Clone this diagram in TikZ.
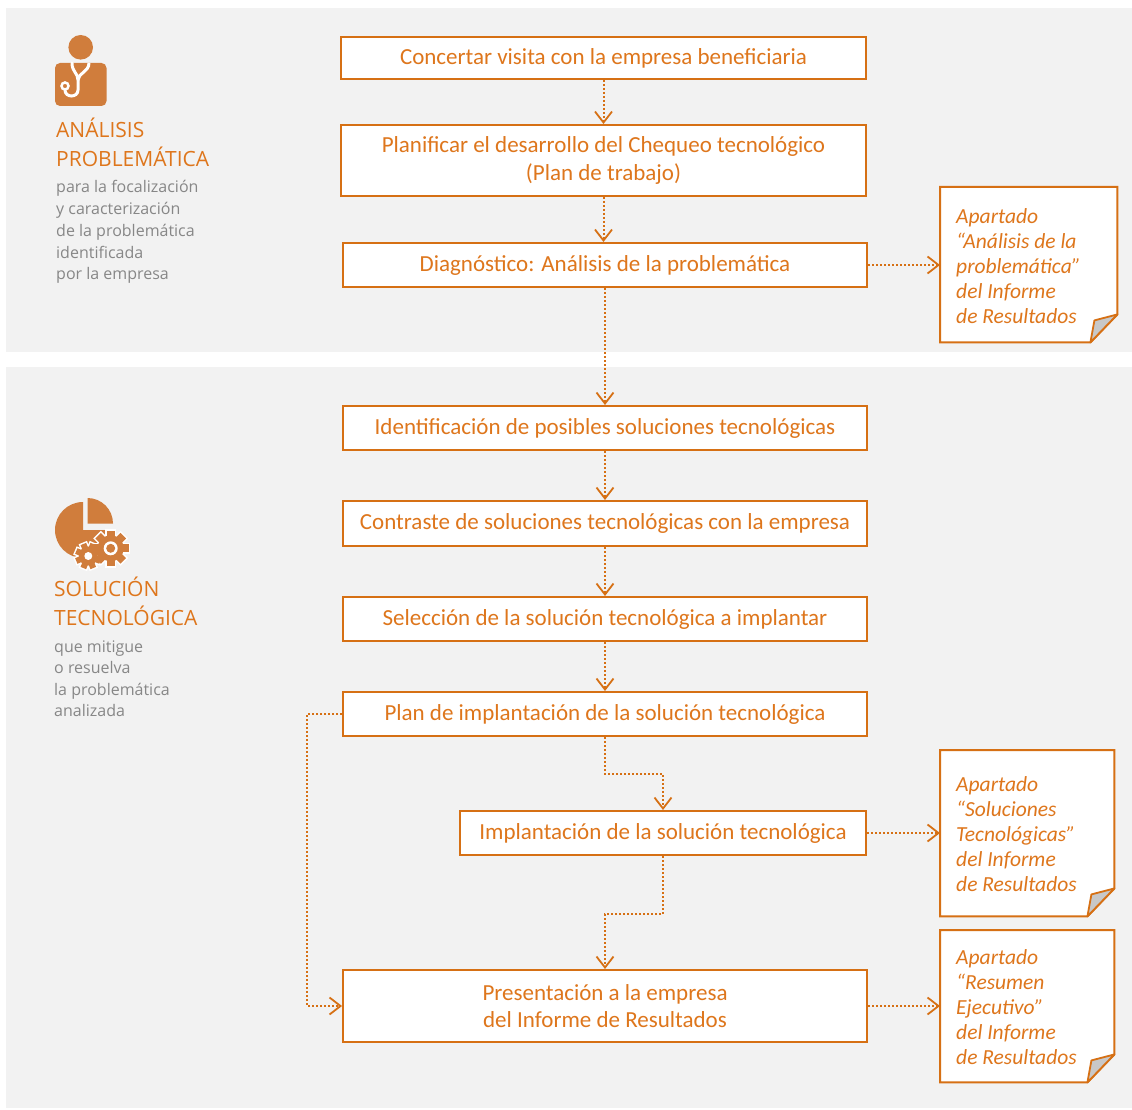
\documentclass[tikz,border=0pt]{standalone}
\usepackage{fontspec}
\setmainfont{Carlito}
\newfontfamily\sidefont{Open Sans}
\usetikzlibrary{arrows.meta}
\definecolor{bordo}{RGB}{214,112,20}
\definecolor{txto}{RGB}{222,118,28}
\definecolor{icono}{RGB}{208,125,60}
\definecolor{gristxt}{RGB}{135,135,135}
\definecolor{panel}{RGB}{242,242,242}
\definecolor{foldgray}{RGB}{200,200,200}
\pgfdeclarelayer{background}
\pgfsetlayers{background,main}
\begin{document}
\begin{tikzpicture}[x=1pt,y=-1pt,
  stepbox/.style={draw=bordo, line width=2pt, fill=white, text=txto,
    font=\fontsize{23}{28}\selectfont, align=center, inner sep=0pt,
    minimum height=44pt, minimum width=524pt},
  docbox/.style={draw=none, inner sep=0pt, anchor=north west},
  doctext/.style={text=txto, font=\fontsize{21.5}{25}\selectfont\itshape,
    align=left, inner sep=0pt, anchor=west},
  docline/.style={draw=bordo, line width=2pt, fill=white, line join=miter},
  flow/.style={draw=bordo, line width=2pt, dash pattern=on 2pt off 2pt,
    -{Straight Barb[length=11pt,width=17pt,line width=1.8pt]}},
  head/.style={text=txto, font=\sidefont\fontsize{21}{28}\selectfont, anchor=base west, inner sep=0pt},
  gris/.style={text=gristxt, font=\sidefont\fontsize{16}{21}\selectfont, anchor=base west, inner sep=0pt},
]
\useasboundingbox (0,0) rectangle (1132,1110);
\begin{pgfonlayer}{background}
\fill[white] (0,0) rectangle (1132,1110);
\fill[panel] (6,8) rectangle (1132,352);
\fill[panel] (6,367) rectangle (1132,1108);
\end{pgfonlayer}

% ---- doctor icon
\fill[icono] (80.7,47.3) circle (12.3);
\fill[icono, rounded corners=5pt] (55,63) rectangle (106.5,106);
\draw[white, line width=3pt, line cap=round]
  (72,63) .. controls (72,72) and (78,73) .. (78,80) -- (78,90)
  .. controls (78,98) and (65,98) .. (65,90);
\draw[white, line width=3pt] (89,63) .. controls (89,72) and (78,73) .. (78,80);
\draw[white, line width=2.5pt] (65,86) circle (3.5);

% ---- pie + gears icon
\fill[icono] (83,530) -- ++(0:28) arc[start angle=0,end angle=270,radius=28] -- cycle;
\fill[icono] (87.5,523.5) -- ++(270:25.5) arc[start angle=270,end angle=360,radius=25.5] -- cycle;
\foreach \a in {0,45,...,315} {
  \draw[white, line width=3pt, rotate around={\a:(110.7,548.3)}] (106.8,530.5) rectangle (114.6,537);
  \draw[white, line width=3pt, rotate around={\a+22.5:(88.3,556)}] (85.3,543) rectangle (91.3,549);
}
\draw[white, line width=3pt] (110.7,548.3) circle (13);
\draw[white, line width=3pt] (88.3,556) circle (9.5);
\foreach \a in {0,45,...,315} {
  \fill[icono, rotate around={\a:(110.7,548.3)}] (106.8,530.5) rectangle (114.6,537);
  \fill[icono, rotate around={\a+22.5:(88.3,556)}] (85.3,543) rectangle (91.3,549);
}
\fill[icono] (110.7,548.3) circle (13);
\fill[icono] (88.3,556) circle (9.5);
\fill[white] (110.7,548.3) circle (7);
\fill[icono] (110.7,548.3) circle (4.5);
\fill[white] (88.3,556) circle (4);

% ---- side texts
\node[head] (h1a) at (56,138) {ANÁLISIS};
\node[head] (h1b) at (56,166.5) {PROBLEMÁTICA};
\node[gris] (g1a) at (56,193) {para la focalización};
\node[gris] (g1b) at (56,214.7) {y caracterización};
\node[gris] (g1c) at (56,236.4) {de la problemática};
\node[gris] (g1d) at (56,258.1) {identificada};
\node[gris] (g1e) at (56,279.8) {por la empresa};

\node[head] (h2a) at (54,596.5) {SOLUCIÓN};
\node[head] (h2b) at (54,625) {TECNOLÓGICA};
\node[gris] (g2a) at (54,652) {que mitigue};
\node[gris] (g2b) at (54,673.5) {o resuelva};
\node[gris] (g2c) at (54,695) {la problemática};
\node[gris] (g2d) at (54,716.5) {analizada};

% ---- process boxes
\node[stepbox, minimum width=525pt, minimum height=42pt] (b1) at (603.5,58) {Concertar visita con la empresa beneficiaria};
\node[stepbox, minimum width=525pt, minimum height=71pt] (b2) at (603.5,160.5) {Planificar el desarrollo del Chequeo tecnológico\\(Plan de trabajo)};
\node[stepbox] (b3) at (605,265) {Diagnóstico: Análisis de la problemática};
\node[stepbox] (b4) at (605,428) {Identificación de posibles soluciones tecnológicas};
\node[stepbox, minimum height=45pt] (b5) at (605,523.5) {Contraste de soluciones tecnológicas con la empresa};
\node[stepbox] (b6) at (605,619) {Selección de la solución tecnológica a implantar};
\node[stepbox] (b7) at (605,714) {Plan de implantación de la solución tecnológica};
\node[stepbox, minimum width=406pt] (b8) at (663,833) {Implantación de la solución tecnológica};
\node[stepbox, minimum height=72pt, font=\fontsize{23}{27}\selectfont] (b9) at (605,1006) {Presentación a la empresa\\del Informe de Resultados};

% ---- document notes
\node[docbox, minimum width=177pt, minimum height=155pt] (d1) at (940,187) {};
\node[docbox, minimum width=174pt, minimum height=166pt] (d2) at (940,750) {};
\node[docbox, minimum width=174pt, minimum height=152pt] (d3) at (940,930) {};
\begin{pgfonlayer}{background}
\foreach \d in {d1,d2,d3} {
  \path[docline] (\d.north west) -- (\d.north east) -- ([yshift=28pt]\d.south east)
    -- ([xshift=-27pt]\d.south east) -- (\d.south west) -- cycle;
  \path[draw=bordo, line width=1.8pt, fill=foldgray, line join=round]
    ([yshift=28pt]\d.south east) -- ([xshift=-23pt,yshift=22pt]\d.south east)
    -- ([xshift=-27pt]\d.south east) -- cycle;
}
\end{pgfonlayer}
\node[doctext] (t1) at ([xshift=16pt,yshift=-1pt]d1.west)
  {Apartado\\“Análisis de la\\problemática”\\del Informe\\de Resultados};
\node[doctext] (t2) at ([xshift=16pt,yshift=-1pt]d2.west)
  {Apartado\\“Soluciones\\Tecnológicas”\\del Informe\\de Resultados};
\node[doctext] (t3) at ([xshift=16pt,yshift=-1pt]d3.west)
  {Apartado\\“Resumen\\Ejecutivo”\\del Informe\\de Resultados};

% ---- connectors
\draw[flow] (b1.south) -- (b1.south |- b2.north);
\draw[flow] (b2.south) -- (b2.south |- b3.north);
\draw[flow] (b3.south) -- (b3.south |- b4.north);
\draw[flow] (b4.south) -- (b4.south |- b5.north);
\draw[flow] (b5.south) -- (b5.south |- b6.north);
\draw[flow] (b6.south) -- (b6.south |- b7.north);
\draw[flow] (b7.south) -- ++(0,37) -| (b8.north);
\draw[flow] (b8.south) -- ++(0,58) -| (b9.north);
\draw[flow] (b7.west) -- ++(-35,0) |- (b9.west);
\draw[flow] (b3.east) -- (b3.east -| d1.west);
\draw[flow] (b8.east) -- (b8.east -| d2.west);
\draw[flow] (b9.east) -- (b9.east -| d3.west);
\end{tikzpicture}
\end{document}
